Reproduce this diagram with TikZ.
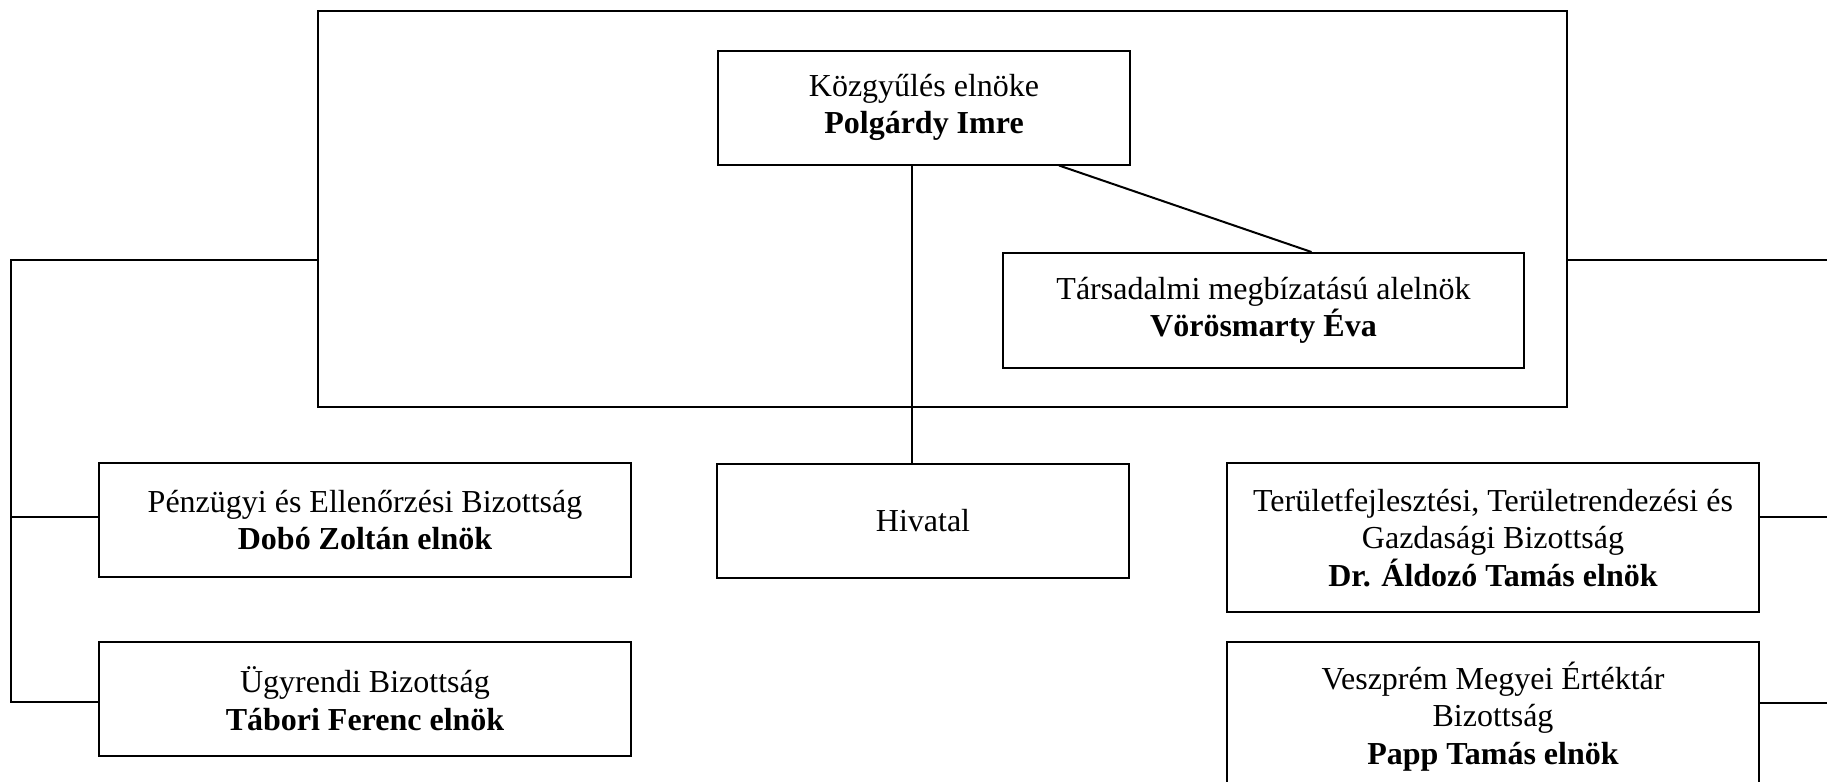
\documentclass[tikz,border=0pt]{standalone}
\usepackage{fontspec}
\setmainfont{Liberation Serif}
\begin{document}
\begin{tikzpicture}[x=0.5pt,y=-0.5pt,line width=1pt,
	box/.style={draw,align=center,inner sep=0,minimum width=266pt,minimum height=57pt,
		font=\fontsize{16}{18.75}\selectfont},
	tallbox/.style={box,minimum height=74.5pt}]
\useasboundingbox (0,0) rectangle (1827,782);
\clip (0,0) rectangle (1827,782);
% frame round the leadership
\node[draw,inner sep=0,minimum width=624.5pt,minimum height=198pt] (frame) at (942.5,209) {};
\node[box,minimum width=206pt] (elnok) at (924,107.5) {Közgyűlés elnöke\\\textbf{Polgárdy Imre}};
\node[box,minimum width=260.5pt,minimum height=57.5pt] (alelnok) at (1263.5,310.5)
	{Társadalmi megbízatású alelnök\\\textbf{Vörösmarty Éva}};
% committees and office
\node[box,minimum width=206pt] (hivatal) at (923,520.5) {Hivatal};
\node[box] (penzugy) at (365,520) {Pénzügyi és Ellenőrzési Bizottság\\\textbf{Dobó Zoltán elnök}};
\node[box] (ugyrend) at (365,698.5) {Ügyrendi Bizottság\\\textbf{Tábori Ferenc elnök}};
\node[tallbox] (terulet) at (1493,537.5)
	{Területfejlesztési, Területrendezési és\\Gazdasági Bizottság\\\textbf{Dr. Áldozó Tamás elnök}};
\node[tallbox] (ertektar) at (1493,716.5)
	{Veszprém Megyei Értéktár\\Bizottság\\\textbf{Papp Tamás elnök}};
\coordinate (lbus) at (11,260);
\coordinate (redge) at (1830,260);
% connectors
\draw ([xshift=-6pt]elnok.south) -- ([xshift=-6pt]elnok.south |- hivatal.north);
\draw ([xshift=67.5pt]elnok.south) -- ([xshift=24pt]alelnok.north);
\draw (frame.west |- lbus) -- (lbus) |- ([yshift=-1.75pt]ugyrend.west);
\draw ([yshift=1.5pt]penzugy.west) -- ([yshift=1.5pt]lbus |- penzugy.west);
\draw (frame.east |- redge) -- (redge);
\draw ([yshift=10.25pt]terulet.east) -- ([yshift=10.25pt]redge |- terulet.east);
\draw ([yshift=6.75pt]ertektar.east) -- ([yshift=6.75pt]redge |- ertektar.east);
\end{tikzpicture}
\end{document}
